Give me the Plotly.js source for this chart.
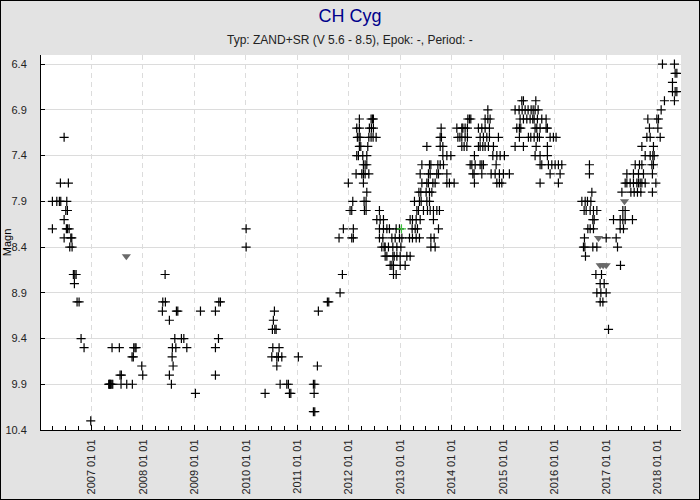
<!DOCTYPE html>
<html>
<head>
<meta charset="utf-8">
<script src="https://cdn.plot.ly/plotly-3.0.1.min.js"></script>
<style>
html,body{margin:0;padding:0;background:#fff;}
#chart{width:698px;height:498px;border:1px solid #000;}
</style>
</head>
<body>
<div id="chart"></div>
<script>
// Observations (decimal year, magnitude), grouped by magnitude row
const obsYear = [
 2018.094, 2018.327,
 2018.341, 2018.374,
 2018.289,
 2018.289, 2018.341, 2018.374,
 2015.361, 2015.393, 2015.634, 2018.133, 2018.327,
 2014.701, 2015.231, 2015.309, 2015.368, 2015.426, 2015.484, 2015.543, 2015.582, 2015.620, 2015.679, 2018.069,
 2012.205, 2012.432, 2012.458, 2012.477, 2014.312, 2014.343, 2014.370, 2014.648, 2014.701, 2014.745, 2015.328, 2015.393, 2015.459, 2015.523, 2015.575, 2015.601, 2015.665, 2015.750, 2015.834, 2017.810, 2017.985, 2018.017,
 2012.154, 2012.205, 2012.399, 2012.438, 2012.477, 2013.793, 2014.098, 2014.195, 2014.215, 2014.259, 2014.304, 2014.518, 2014.584, 2014.648, 2014.732, 2015.264, 2015.315, 2015.342, 2015.620, 2015.653, 2015.717, 2015.834, 2015.859, 2017.841, 2018.005,
 2012.166, 2012.199, 2012.219, 2012.388, 2012.432, 2012.471, 2012.530, 2013.774, 2013.799, 2014.118, 2014.157, 2014.195, 2014.259, 2014.304, 2014.551, 2014.615, 2014.681, 2014.732, 2014.907, 2015.315, 2015.490, 2015.536, 2015.601, 2015.665, 2015.704, 2015.912, 2015.976, 2016.028, 2017.791, 2017.855, 2018.050,
 2012.205, 2012.232, 2012.368, 2013.515, 2013.774, 2013.826, 2014.195, 2014.240, 2014.293, 2014.518, 2014.551, 2014.603, 2014.648, 2014.712, 2014.810, 2015.231, 2015.393, 2015.640, 2015.859, 2017.694, 2017.919,
 2012.154, 2012.186, 2012.271, 2012.349, 2013.826, 2013.904, 2013.982, 2014.440, 2014.798, 2014.876, 2014.940, 2015.023, 2015.620, 2015.717, 2015.859, 2017.758, 2017.855, 2017.907, 2017.933,
 2012.283, 2012.316, 2012.349, 2013.418, 2013.566, 2013.593, 2013.729, 2013.774, 2013.838, 2014.357, 2014.390, 2014.454, 2014.551, 2014.584, 2014.615, 2014.862, 2015.717, 2015.750, 2015.879, 2015.945, 2016.009, 2016.073, 2016.139, 2016.675, 2017.564, 2017.647, 2017.694, 2017.888, 2017.919,
 2012.141, 2012.252, 2012.283, 2012.316, 2012.388, 2013.385, 2013.546, 2013.579, 2013.709, 2013.741, 2013.904, 2014.409, 2014.434, 2014.584, 2014.765, 2014.843, 2014.926, 2015.004, 2015.120, 2015.912, 2016.106, 2016.675, 2017.402, 2017.530, 2017.628, 2017.725, 2017.899,
 2011.991, 2012.283, 2013.418, 2013.515, 2013.546, 2013.632, 2013.676, 2013.904, 2013.954, 2014.046, 2014.440, 2014.876, 2014.926, 2014.973, 2015.717, 2016.073, 2017.369, 2017.402, 2017.466, 2017.530, 2017.597, 2017.628, 2017.661, 2017.694, 2017.758, 2017.966,
 2012.349, 2013.360, 2013.398, 2013.501, 2013.566, 2013.612, 2016.722, 2017.305, 2017.480, 2017.544, 2017.608, 2017.674, 2017.899,
 2006.238, 2006.324, 2006.374, 2006.401, 2006.518, 2012.077, 2012.296, 2012.335, 2013.274, 2013.371, 2013.404, 2013.515, 2013.566, 2016.528, 2016.592, 2016.637, 2016.703,
 2006.499, 2006.530, 2012.024, 2012.057, 2012.302, 2012.335, 2012.594, 2013.321, 2013.352, 2013.449, 2013.527, 2013.579, 2013.643, 2013.709, 2013.760, 2016.572, 2016.611, 2016.689, 2016.753, 2016.819, 2017.324, 2017.369,
 2006.466, 2012.543, 2012.607, 2012.672, 2013.190, 2013.235, 2013.307, 2013.385, 2013.643, 2016.741, 2016.767, 2017.142, 2017.272, 2017.324, 2017.369, 2017.511,
 2006.238, 2006.510, 2006.530, 2006.563, 2010.003, 2011.894, 2012.088, 2012.594, 2012.672, 2012.738, 2012.788, 2012.918, 2012.982, 2013.229, 2013.288, 2013.332, 2013.741, 2016.644, 2016.689, 2016.753, 2017.272, 2017.336,
 2006.466, 2006.596, 2006.615, 2011.810, 2012.057, 2012.088, 2012.594, 2012.660, 2012.835, 2012.899, 2012.982, 2013.029, 2013.177, 2013.235, 2013.307, 2013.371, 2013.593, 2013.657, 2016.578, 2017.000, 2017.194,
 2006.576, 2006.621, 2010.003, 2012.640, 2012.685, 2012.705, 2012.769, 2012.854, 2012.932, 2013.010, 2013.593, 2013.676, 2016.559, 2016.586, 2016.741, 2016.819, 2017.220,
 2012.705, 2012.738, 2012.854, 2012.880, 2012.932, 2012.996, 2013.126, 2013.190, 2016.598,
 2012.802, 2012.835, 2012.866, 2012.996, 2013.093, 2017.278,
 2006.646, 2006.673, 2006.699, 2008.429, 2011.875, 2012.866, 2012.918, 2016.800, 2016.909,
 2006.666, 2016.883, 2016.961,
 2011.830, 2016.819, 2016.897, 2017.000,
 2006.718, 2006.757, 2008.384, 2008.434, 2009.472, 2009.503, 2011.583, 2011.610, 2016.883, 2016.936,
 2008.376, 2008.648, 2008.675, 2009.115, 2009.406, 2010.553, 2011.408,
 2008.512, 2010.533,
 2010.514, 2010.561, 2010.586, 2017.045,
 2006.796, 2008.617, 2008.745, 2008.792, 2009.465,
 2006.854, 2007.398, 2007.540, 2007.820, 2007.845, 2007.865, 2008.570, 2008.637, 2008.850, 2009.406, 2010.522, 2010.644,
 2007.787, 2007.812, 2008.565, 2010.502, 2010.600, 2010.631, 2010.697, 2011.019,
 2007.976, 2008.584, 2010.600, 2011.389,
 2007.554, 2007.579, 2007.995, 2008.512, 2009.406,
 2007.334, 2007.344, 2007.354, 2007.363, 2007.373, 2007.393, 2007.412, 2007.573, 2007.684, 2007.793, 2008.551, 2010.664, 2010.794, 2010.825, 2011.311, 2011.338,
 2009.017, 2010.372, 2010.845, 2010.872, 2011.325,
 2011.311, 2011.338,
 2006.984,
 2006.466,
 2006.394, 2006.549
];
const obsMag = [
 6.4, 6.4,
 6.5, 6.5,
 6.6,
 6.7, 6.7, 6.7,
 6.8, 6.8, 6.8, 6.8, 6.8,
 6.9, 6.9, 6.9, 6.9, 6.9, 6.9, 6.9, 6.9, 6.9, 6.9, 6.9,
 7.0, 7.0, 7.0, 7.0, 7.0, 7.0, 7.0, 7.0, 7.0, 7.0, 7.0, 7.0, 7.0, 7.0, 7.0, 7.0, 7.0, 7.0, 7.0, 7.0, 7.0, 7.0,
 7.1, 7.1, 7.1, 7.1, 7.1, 7.1, 7.1, 7.1, 7.1, 7.1, 7.1, 7.1, 7.1, 7.1, 7.1, 7.1, 7.1, 7.1, 7.1, 7.1, 7.1, 7.1, 7.1, 7.1, 7.1,
 7.2, 7.2, 7.2, 7.2, 7.2, 7.2, 7.2, 7.2, 7.2, 7.2, 7.2, 7.2, 7.2, 7.2, 7.2, 7.2, 7.2, 7.2, 7.2, 7.2, 7.2, 7.2, 7.2, 7.2, 7.2, 7.2, 7.2, 7.2, 7.2, 7.2, 7.2,
 7.3, 7.3, 7.3, 7.3, 7.3, 7.3, 7.3, 7.3, 7.3, 7.3, 7.3, 7.3, 7.3, 7.3, 7.3, 7.3, 7.3, 7.3, 7.3, 7.3, 7.3,
 7.4, 7.4, 7.4, 7.4, 7.4, 7.4, 7.4, 7.4, 7.4, 7.4, 7.4, 7.4, 7.4, 7.4, 7.4, 7.4, 7.4, 7.4, 7.4,
 7.5, 7.5, 7.5, 7.5, 7.5, 7.5, 7.5, 7.5, 7.5, 7.5, 7.5, 7.5, 7.5, 7.5, 7.5, 7.5, 7.5, 7.5, 7.5, 7.5, 7.5, 7.5, 7.5, 7.5, 7.5, 7.5, 7.5, 7.5, 7.5,
 7.6, 7.6, 7.6, 7.6, 7.6, 7.6, 7.6, 7.6, 7.6, 7.6, 7.6, 7.6, 7.6, 7.6, 7.6, 7.6, 7.6, 7.6, 7.6, 7.6, 7.6, 7.6, 7.6, 7.6, 7.6, 7.6, 7.6,
 7.7, 7.7, 7.7, 7.7, 7.7, 7.7, 7.7, 7.7, 7.7, 7.7, 7.7, 7.7, 7.7, 7.7, 7.7, 7.7, 7.7, 7.7, 7.7, 7.7, 7.7, 7.7, 7.7, 7.7, 7.7, 7.7,
 7.8, 7.8, 7.8, 7.8, 7.8, 7.8, 7.8, 7.8, 7.8, 7.8, 7.8, 7.8, 7.8,
 7.9, 7.9, 7.9, 7.9, 7.9, 7.9, 7.9, 7.9, 7.9, 7.9, 7.9, 7.9, 7.9, 7.9, 7.9, 7.9, 7.9,
 8.0, 8.0, 8.0, 8.0, 8.0, 8.0, 8.0, 8.0, 8.0, 8.0, 8.0, 8.0, 8.0, 8.0, 8.0, 8.0, 8.0, 8.0, 8.0, 8.0, 8.0, 8.0,
 8.1, 8.1, 8.1, 8.1, 8.1, 8.1, 8.1, 8.1, 8.1, 8.1, 8.1, 8.1, 8.1, 8.1, 8.1, 8.1,
 8.2, 8.2, 8.2, 8.2, 8.2, 8.2, 8.2, 8.2, 8.2, 8.2, 8.2, 8.2, 8.2, 8.2, 8.2, 8.2, 8.2, 8.2, 8.2, 8.2, 8.2, 8.2,
 8.3, 8.3, 8.3, 8.3, 8.3, 8.3, 8.3, 8.3, 8.3, 8.3, 8.3, 8.3, 8.3, 8.3, 8.3, 8.3, 8.3, 8.3, 8.3, 8.3, 8.3,
 8.4, 8.4, 8.4, 8.4, 8.4, 8.4, 8.4, 8.4, 8.4, 8.4, 8.4, 8.4, 8.4, 8.4, 8.4, 8.4, 8.4,
 8.5, 8.5, 8.5, 8.5, 8.5, 8.5, 8.5, 8.5, 8.5,
 8.6, 8.6, 8.6, 8.6, 8.6, 8.6,
 8.7, 8.7, 8.7, 8.7, 8.7, 8.7, 8.7, 8.7, 8.7,
 8.8, 8.8, 8.8,
 8.9, 8.9, 8.9, 8.9,
 9.0, 9.0, 9.0, 9.0, 9.0, 9.0, 9.0, 9.0, 9.0, 9.0,
 9.1, 9.1, 9.1, 9.1, 9.1, 9.1, 9.1,
 9.2, 9.2,
 9.3, 9.3, 9.3, 9.3,
 9.4, 9.4, 9.4, 9.4, 9.4,
 9.5, 9.5, 9.5, 9.5, 9.5, 9.5, 9.5, 9.5, 9.5, 9.5, 9.5, 9.5,
 9.6, 9.6, 9.6, 9.6, 9.6, 9.6, 9.6, 9.6,
 9.7, 9.7, 9.7, 9.7,
 9.8, 9.8, 9.8, 9.8, 9.8,
 9.9, 9.9, 9.9, 9.9, 9.9, 9.9, 9.9, 9.9, 9.9, 9.9, 9.9, 9.9, 9.9, 9.9, 9.9, 9.9,
 10.0, 10.0, 10.0, 10.0, 10.0,
 10.2, 10.2,
 10.3,
 7.2,
 7.7, 7.7
];
// "Fainter than" estimates (grey triangles)
const fntYear = [2007.676, 2016.851, 2016.883, 2016.941, 2017.000, 2017.356];
const fntMag  = [8.5, 8.3, 8.6, 8.6, 8.6, 7.9];
// Single green observation
const grnYear = [2013.021];
const grnMag  = [8.2];

const yTickVals = [6.4, 6.9, 7.4, 7.9, 8.4, 8.9, 9.4, 9.9, 10.4];
const yTickText = ['6.4', '6.9', '7.4', '7.9', '8.4', '8.9', '9.4', '9.9', '10.4'];

function toDate(y) {
  const yr = Math.floor(y);
  const s = Date.UTC(yr, 0, 1), e = Date.UTC(yr + 1, 0, 1);
  return new Date(s + (y - yr) * (e - s)).toISOString().replace('T', ' ').slice(0, 19);
}

const FONT = 'Liberation Sans, Arial, sans-serif';

const traces = [
  {
    type: 'scatter', mode: 'markers',
    x: obsYear.map(toDate), y: obsMag,
    marker: {symbol: 'cross-thin-open', size: 6.5, line: {color: '#000', width: 1.2}, color: '#000'}
  },
  {
    type: 'scatter', mode: 'markers',
    x: fntYear.map(toDate), y: fntMag,
    marker: {symbol: 'triangle-down', size: 8, color: '#6a6a6a', line: {width: 0}}
  },
  {
    type: 'scatter', mode: 'markers',
    x: grnYear.map(toDate), y: grnMag,
    marker: {symbol: 'cross-thin-open', size: 6.5, line: {color: '#3cc23c', width: 1.2}, color: '#3cc23c'}
  }
];

const layout = {
  width: 698, height: 498,
  paper_bgcolor: '#e3e3e3',
  plot_bgcolor: '#ffffff',
  margin: {l: 40, r: 18, t: 54, b: 69, pad: 0},
  showlegend: false,
  hovermode: false,
  font: {family: FONT, color: '#222', size: 11},
  title: {
    text: 'CH Cyg',
    font: {family: FONT, size: 18, color: '#00008b'},
    xref: 'container', x: 0.5, xanchor: 'center',
    yref: 'container', y: 0.97, yanchor: 'middle'
  },
  annotations: [{
    text: 'Typ: ZAND+SR (V 5.6 - 8.5), Epok: -, Period: -',
    xref: 'paper', yref: 'paper', x: 0.483, y: 1.04,
    xanchor: 'center', yanchor: 'middle', showarrow: false,
    font: {family: FONT, size: 12, color: '#222'}
  }],
  xaxis: {
    type: 'date',
    range: ['2006-01-07', '2018-06-16'],
    tick0: '2007-01-01', dtick: 'M12',
    tickformat: '%Y %m %d',
    tickangle: -90,
    ticks: 'inside', ticklen: 5, tickcolor: '#000',
    tickfont: {family: FONT, size: 11, color: '#222'},
    showline: true, linecolor: '#000', linewidth: 1,
    showgrid: true, gridcolor: '#dcdcdc', gridwidth: 1, griddash: '5px,4px',
    zeroline: false,
    minor: {dtick: 'M3', tick0: '2007-01-01', ticks: 'inside', ticklen: 4, tickcolor: '#000', showgrid: false},
    ticklabelstandoff: 4
  },
  yaxis: {
    range: [10.4, 6.3],
    tickmode: 'array', tickvals: yTickVals, ticktext: yTickText,
    ticks: 'inside', ticklen: 4, tickcolor: '#000',
    tickfont: {family: FONT, size: 11, color: '#222'},
    showline: true, linecolor: '#000', linewidth: 1,
    showgrid: true, gridcolor: '#dcdcdc', gridwidth: 1,
    zeroline: false,
    ticklabelstandoff: 11,
    title: {text: 'Magn', font: {family: FONT, size: 11, color: '#000'}, standoff: 4}
  }
};

Plotly.newPlot('chart', traces, layout, {staticPlot: true, displayModeBar: false});
</script>
</body>
</html>
